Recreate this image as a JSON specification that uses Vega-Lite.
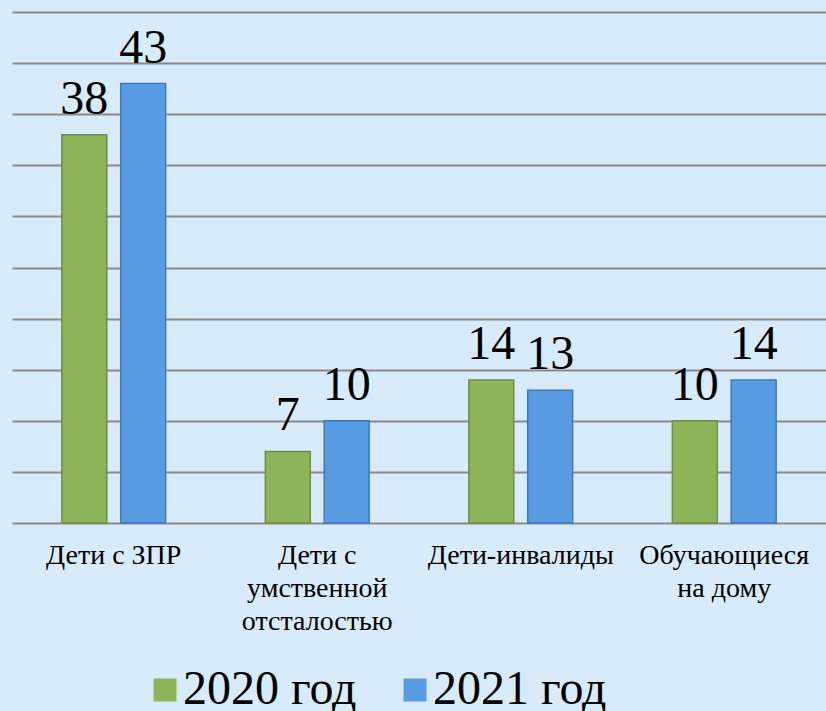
{
  "$schema": "https://vega.github.io/schema/vega-lite/v6.json",
  "autosize": "none",
  "width": 814,
  "height": 511,
  "padding": {"left": 12, "top": 12, "right": 0, "bottom": 188},
  "background": "#d7ebfa",
  "config": {
    "view": {"stroke": null},
    "font": "Liberation Serif, DejaVu Serif, serif",
    "legend": {"padding": 0}
  },
  "data": {
    "values": [
      {"cat": "Дети с ЗПР", "year": "2020 год", "value": 38},
      {"cat": "Дети с ЗПР", "year": "2021 год", "value": 43},
      {"cat": "Дети с|умственной|отсталостью", "year": "2020 год", "value": 7},
      {"cat": "Дети с|умственной|отсталостью", "year": "2021 год", "value": 10},
      {"cat": "Дети-инвалиды", "year": "2020 год", "value": 14},
      {"cat": "Дети-инвалиды", "year": "2021 год", "value": 13},
      {"cat": "Обучающиеся|на дому", "year": "2020 год", "value": 10},
      {"cat": "Обучающиеся|на дому", "year": "2021 год", "value": 14}
    ]
  },
  "encoding": {
    "x": {
      "field": "cat", "type": "nominal", "sort": null, "title": null,
      "scale": {"paddingInner": 0, "paddingOuter": 0},
      "axis": {
        "domain": false, "ticks": false, "labelAngle": 0,
        "labelExpr": "split(datum.label, '|')",
        "labelFont": "Liberation Serif, DejaVu Serif, serif", "labelFontSize": 28, "labelColor": "#000000",
        "labelLineHeight": 33, "labelBaseline": "top", "labelPadding": 18, "labelLimit": 300,
        "labelOverlap": false
      }
    },
    "xOffset": {
      "field": "year", "type": "nominal",
      "scale": {"paddingInner": 0.237, "paddingOuter": 0.847}
    },
    "y": {
      "field": "value", "type": "quantitative", "title": null,
      "scale": {"domain": [0, 50], "nice": false},
      "axis": {
        "values": [0, 5, 10, 15, 20, 25, 30, 35, 40, 45, 50],
        "labels": false, "ticks": false, "domain": false,
        "grid": true, "gridColor": "#8a8a8a", "gridWidth": 2
      }
    }
  },
  "layer": [
    {
      "mark": {"type": "bar", "strokeWidth": 1.5},
      "encoding": {
        "color": {
          "field": "year", "type": "nominal", "title": null,
          "scale": {"domain": ["2020 год", "2021 год"], "range": ["#8db458", "#579be2"]},
          "legend": {
            "orient": "none", "legendX": 129, "legendY": 654, "direction": "horizontal",
            "symbolType": "square", "symbolSize": 529, "symbolStrokeWidth": 0,
            "labelFont": "Liberation Serif, DejaVu Serif, serif", "labelFontSize": 48, "labelColor": "#000000",
            "labelOffset": -6, "columnPadding": 34, "labelLimit": 300
          }
        },
        "stroke": {
          "field": "year", "type": "nominal", "legend": null,
          "scale": {"domain": ["2020 год", "2021 год"], "range": ["#6d9040", "#3d79bc"]}
        }
      }
    },
    {
      "mark": {"type": "text", "dy": -21, "baseline": "alphabetic", "fontSize": 48, "font": "Liberation Serif, DejaVu Serif, serif", "color": "#000000"},
      "encoding": {
        "text": {"field": "value", "type": "quantitative"}
      }
    }
  ]
}
